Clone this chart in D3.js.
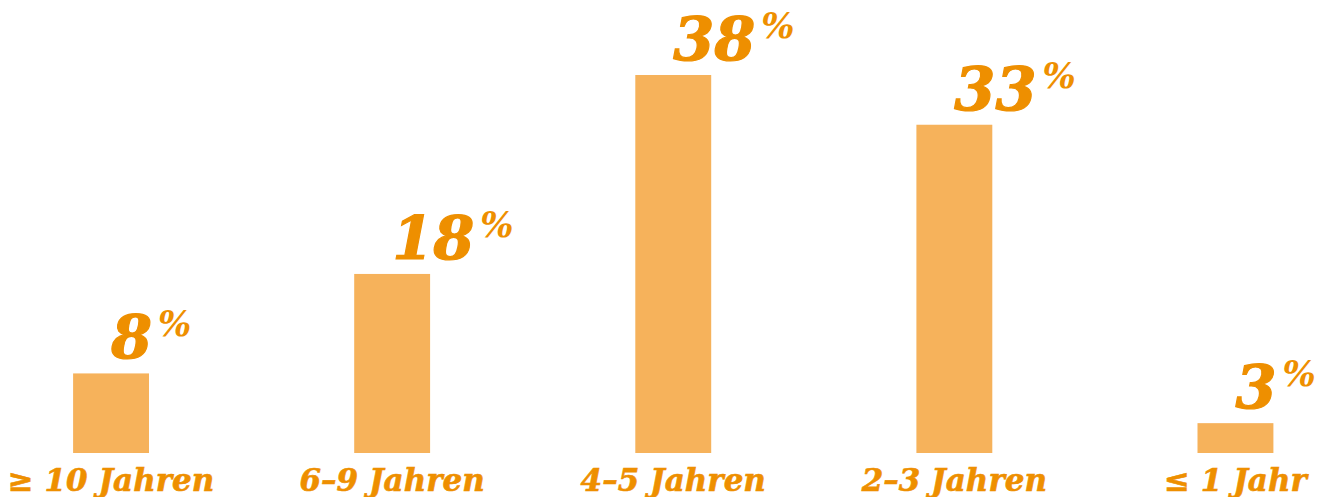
<!DOCTYPE html>
<html lang="de">
<meta charset="utf-8">
<title>Jahre</title>
<style>
	body { margin: 0; background: #fff; }
	.lbl, .val {
	    font-family: "DejaVu Serif", serif;
	    font-weight: bold;
	    font-style: italic;
	    fill: #EE8F00;
	}
</style>
<body>
<script src="https://d3js.org/d3.v7.min.js"></script>
<svg class="chart"></svg>
<script>
	var categories = ["\u2265 10 Jahren", "6\u20139 Jahren", "4\u20135 Jahren", "2\u20133 Jahren", "\u2264 1 Jahr"];
	var values = [8, 18, 38, 33, 3];

	var width = 1330, height = 497;
	var svg = d3.select(".chart")
	    .attr("width", width)
	    .attr("height", height);

	// bars: step ~281px, width 76px, baseline at 453
	var x = d3.scaleBand().domain(categories).range([-29.5, 1376]).paddingInner(0.73).paddingOuter(0.365);
	var y = d3.scaleLinear().domain([0, 38]).range([453, 75]);

	svg.selectAll(".bar")
	    .data(values)
	  .enter().append("rect")
	    .attr("class", "bar")
	    .attr("x", function(d, i) { return x(categories[i]); })
	    .attr("width", x.bandwidth())
	    .attr("y", function(d) { return y(d); })
	    .attr("height", function(d) { return y(0) - y(d); })
	    .style("fill", "#F6B25B");

	var val = svg.selectAll(".val")
	    .data(values)
	  .enter().append("text")
	    .attr("class", "val")
	    .attr("x", function(d, i) { return x(categories[i]) + x.bandwidth() / 2; })
	    .attr("y", function(d) { return y(d) - 15; });
	val.append("tspan")
	    .style("font-size", "59px")
	    .style("stroke", "#EE8F00")
	    .style("stroke-width", "1.2px")
	    .text(function(d) { return d; });
	val.append("tspan")
	    .attr("dx", 6)
	    .attr("dy", -22)
	    .style("font-size", "35px")
	    .text("%");

	svg.selectAll(".lbl")
	    .data(categories)
	  .enter().append("text")
	    .attr("class", "lbl")
	    .attr("text-anchor", "middle")
	    .attr("x", function(d) { return x(d) + x.bandwidth() / 2; })
	    .attr("y", 491)
	    .style("font-size", "31px")
	    .style("stroke", "#EE8F00")
	    .style("stroke-width", "0.6px")
	    .text(function(d) { return d; });
</script>
</body>
</html>
